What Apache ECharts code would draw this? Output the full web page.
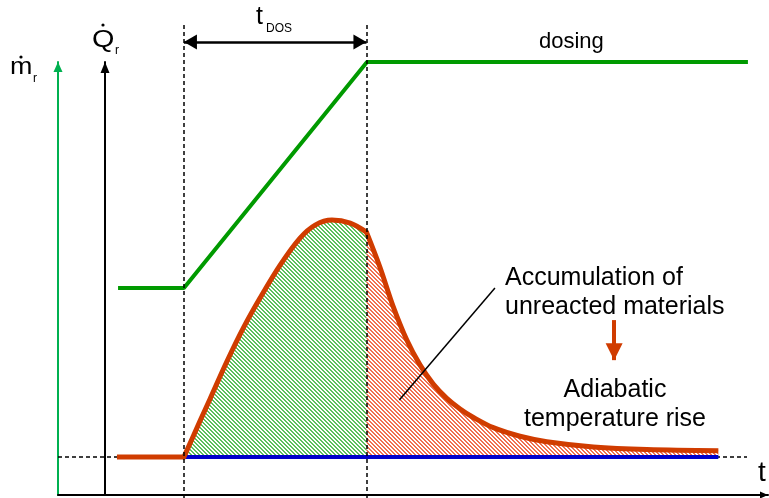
<!DOCTYPE html>
<html><head><meta charset="utf-8">
<script src="https://cdn.jsdelivr.net/npm/echarts@6/dist/echarts.min.js"></script>
<style>html,body{margin:0;padding:0;background:#fff}#c{width:769px;height:498px}</style>
</head><body><div id="c"></div>
<script>
// time in units of the dosing time (0 = start of dosing, 1 = end of dosing)
// heat release rate Q̇r normalised to its peak, dosing mass ṁr drawn on the same scale
const preT   = [-0.367, 0];
const preQ   = [0, 0];
const riseT  = [0, 0.088, 0.143, 0.234, 0.325, 0.417, 0.527, 0.636, 0.719, 0.811, 0.911, 1.0];
const riseQ  = [0, 0.152, 0.245, 0.401, 0.544, 0.671, 0.810, 0.924, 0.979, 1.0, 0.987, 0.949];
const decayT = [1.0, 1.073, 1.147, 1.221, 1.294, 1.366, 1.440, 1.513, 1.586, 1.695, 1.841, 1.988, 2.243, 2.536, 2.928];
const decayQ = [0.949, 0.803, 0.634, 0.494, 0.388, 0.308, 0.248, 0.203, 0.167, 0.124, 0.088, 0.065, 0.043, 0.032, 0.027];
const doseT  = [-0.361, 0, 1.003, 3.09];
const doseM  = [0.713, 0.713, 1.667, 1.667];
const baseT  = [0, 2.928];          // blue baseline (adiabatic reference)
const refT   = [-0.69, 3.085];      // dashed zero line
const markT  = [0, 1];              // start / end of dosing (t_DOS)
const markTop = 1.823, markBottom = -0.175, spanQ = 1.751;
const leader = [[1.704, 0.713], [1.180, 0.2405]];
const redArrow = [[2.357, 0.578], [2.357, 0.409]];
const xRange = [-0.69, 3.2];
const yRange = [-0.16, 1.667];

const FONT = "'Liberation Sans', Arial, sans-serif";
const RED = '#d03c00', GREEN = '#009a00', BLUE = '#0000cc';

function hatch(color) {
  const c = document.createElement('canvas');
  c.width = 4; c.height = 4;
  const g = c.getContext('2d');
  g.fillStyle = '#fff'; g.fillRect(0, 0, 4, 4);
  g.fillStyle = color;
  for (let i = 0; i < 4; i++) { g.fillRect(i, i, 1, 1); g.fillRect((i + 1) % 4, i, 1, 1); }
  return { image: c, repeat: 'repeat' };
}
function pairs(xs, ys) { return xs.map((x, i) => [x, ys[i]]); }
function tipArrow(len, wid) {
  const h = wid / 2, L = Math.max(len, h);
  return 'path://M0,0 L' + h + ',' + len + ' L-' + h + ',' + len + ' Z M-' + L + ',-' + L + ' L-' + L + ',-' + L + ' M' + L + ',' + L + ' L' + L + ',' + L;
}
function txt(s, x, base, size, align, sx) {
  return { type: 'text', x: x, y: base - 0.35 * size, silent: true, scaleX: sx || 1,
    style: { text: s, fill: '#000', font: size + 'px ' + FONT, align: align || 'left', verticalAlign: 'middle' } };
}
function dot(cx, cy) { return { type: 'circle', shape: { cx: cx, cy: cy, r: 1.6 }, style: { fill: '#000' }, silent: true }; }

const chart = echarts.init(document.getElementById('c'), null, { renderer: 'canvas' });
const hidden = { axisTick: { show: false }, axisLabel: { show: false }, splitLine: { show: false } };
const curve = { smooth: 0.35, symbol: 'none', yAxisIndex: 1, clip: false };
chart.setOption({
  animation: false,
  grid: { left: 58, right: 1, top: 62, bottom: 3, containLabel: false },
  xAxis: Object.assign({ type: 'value', min: xRange[0], max: xRange[1],
    axisLine: { onZero: false, lineStyle: { color: '#000', width: 2 }, symbol: ['none', 'triangle'], symbolSize: [7, 8], symbolOffset: [0, -4] } }, hidden),
  yAxis: [
    Object.assign({ type: 'value', position: 'left', offset: 0, min: yRange[0], max: yRange[1],
      axisLine: { show: true, onZero: false, lineStyle: { color: '#00b050', width: 2 }, symbol: ['none', 'triangle'], symbolSize: [9, 10], symbolOffset: [0, -5] } }, hidden),
    Object.assign({ type: 'value', position: 'left', offset: -47, min: yRange[0], max: yRange[1],
      axisLine: { show: true, onZero: false, lineStyle: { color: '#000', width: 2 }, symbol: ['none', 'triangle'], symbolSize: [9, 11], symbolOffset: [0, -5.5] } }, hidden)
  ],
  series: [
    Object.assign({ type: 'line', name: 'area during dosing', data: pairs(riseT, riseQ), z: 1,
      lineStyle: { width: 0, opacity: 0 }, areaStyle: { color: hatch('#5cc05c'), opacity: 1 } }, curve),
    Object.assign({ type: 'line', name: 'area after dosing', data: pairs(decayT, decayQ), z: 1,
      lineStyle: { width: 0, opacity: 0 }, areaStyle: { color: hatch('#f07050'), opacity: 1 } }, curve),
    { type: 'line', name: 'zero', yAxisIndex: 1, data: pairs(refT, [0, 0]), symbol: 'none', z: 2,
      lineStyle: { color: '#000', width: 1.5, type: [4, 3] }, clip: false },
    { type: 'line', name: 'baseline', yAxisIndex: 1, data: pairs(baseT, [0, 0]), symbol: 'none', z: 3,
      lineStyle: { color: BLUE, width: 4 }, clip: false },
    { type: 'line', name: 'dosing', yAxisIndex: 0, data: pairs(doseT, doseM), symbol: 'none', z: 4,
      lineStyle: { color: GREEN, width: 4 }, clip: false },
    { type: 'line', name: 'Qr pre', yAxisIndex: 1, data: pairs(preT, preQ), symbol: 'none', z: 5,
      lineStyle: { color: RED, width: 5, cap: 'butt' }, clip: false },
    Object.assign({ type: 'line', name: 'Qr rise', data: pairs(riseT, riseQ), z: 5,
      lineStyle: { color: RED, width: 5, cap: 'round', join: 'round' } }, curve),
    Object.assign({ type: 'line', name: 'Qr decay', data: pairs(decayT, decayQ), z: 5,
      lineStyle: { color: RED, width: 5, join: 'round' } }, curve),
    { type: 'lines', coordinateSystem: 'cartesian2d', yAxisIndex: 1, clip: false, z: 6, silent: true,
      symbol: ['none', 'none'], lineStyle: { color: '#000', width: 1.5, type: [4, 3], opacity: 1 },
      data: markT.map(t => ({ coords: [[t, markTop], [t, markBottom]] })) },
    { type: 'lines', coordinateSystem: 'cartesian2d', yAxisIndex: 1, clip: false, z: 6, silent: true,
      symbol: [tipArrow(13, 15), tipArrow(13, 15)], symbolSize: [26, 26], lineStyle: { color: '#000', width: 2.5, opacity: 1 },
      data: [{ coords: [[markT[0], spanQ], [markT[1], spanQ]] }] },
    { type: 'lines', coordinateSystem: 'cartesian2d', yAxisIndex: 1, clip: false, z: 6, silent: true,
      symbol: ['none', 'none'], lineStyle: { color: '#000', width: 1.5, opacity: 1 },
      data: [{ coords: leader }] },
    { type: 'lines', coordinateSystem: 'cartesian2d', yAxisIndex: 1, clip: false, z: 6, silent: true,
      symbol: ['none', tipArrow(17, 17)], symbolSize: [1, 34], lineStyle: { color: RED, width: 4, opacity: 1 },
      data: [{ coords: redArrow }] }
  ],
  graphic: [
    txt('m', 10, 76, 24, 'left', 1.12), dot(21, 57), txt('r', 33, 83, 12),
    txt('Q', 92, 49, 24, 'left', 1.2), dot(103, 25), txt('r', 115, 55, 12),
    txt('t', 256, 26, 25), txt('DOS', 266, 33, 12),
    txt('dosing', 539, 50, 22),
    txt('Accumulation of', 505, 287, 25), txt('unreacted materials', 505, 316, 25),
    txt('Adiabatic', 615, 399, 25, 'center'), txt('temperature rise', 615, 428, 25, 'center'),
    txt('t', 758, 483, 28)
  ]
});
</script></body></html>
